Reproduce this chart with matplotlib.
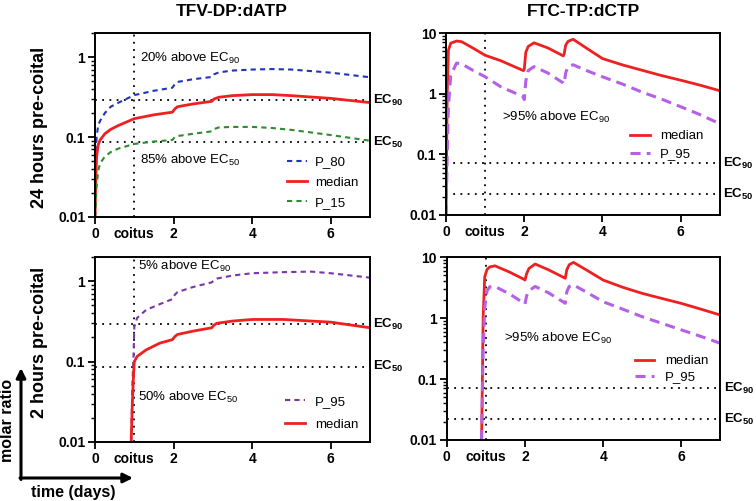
import matplotlib
matplotlib.use("Agg")
import matplotlib.pyplot as plt
from matplotlib.patches import FancyArrowPatch
from matplotlib.ticker import LogLocator, FixedLocator, NullFormatter
import matplotlib.transforms as mtransforms

plt.rcParams['font.family'] = ['Liberation Sans', 'DejaVu Sans']
plt.rcParams['mathtext.fontset'] = 'custom'
plt.rcParams['mathtext.rm'] = 'Liberation Sans'
plt.rcParams['mathtext.bf'] = 'Liberation Sans:bold'
plt.rcParams['mathtext.default'] = 'rm'

# ---- data ----
# TFV-DP:dATP, dose 24 h before coitus
tfv24_t = [0, 0.02, 0.04, 0.08, 0.13, 0.25, 0.4, 0.6, 1.0, 1.5, 1.97, 2.03, 2.1, 2.5,
           2.97, 3.03, 3.15, 3.5, 4.0, 4.5, 5.0, 6.0, 7.0]
tfv24_median = [0.01, 0.03, 0.057, 0.08, 0.092, 0.11, 0.125, 0.14, 0.17, 0.19, 0.205, 0.225,
                0.24, 0.26, 0.28, 0.3, 0.315, 0.33, 0.34, 0.34, 0.33, 0.305, 0.27]
tfv24_p80 = [0.01, 0.05, 0.1, 0.14, 0.16, 0.2, 0.24, 0.27, 0.335, 0.38, 0.415, 0.46, 0.49,
             0.53, 0.565, 0.61, 0.645, 0.68, 0.70, 0.71, 0.70, 0.64, 0.56]
tfv24_p15 = [0.01, 0.015, 0.024, 0.038, 0.047, 0.057, 0.065, 0.072, 0.082, 0.088, 0.092, 0.1,
             0.103, 0.11, 0.118, 0.126, 0.132, 0.134, 0.134, 0.13, 0.123, 0.106, 0.09]

# TFV-DP:dATP, dose 2 h before coitus
tfv2_t = [0.92, 0.95, 0.98, 1.0, 1.07, 1.3, 1.65, 1.97, 2.03, 2.1, 2.5, 2.97, 3.03, 3.1,
          3.5, 4.0, 4.8, 5.5, 6.0, 7.0]
tfv2_median = [0.01, 0.03, 0.07, 0.1, 0.116, 0.14, 0.17, 0.188, 0.205, 0.218, 0.24, 0.264,
               0.285, 0.30, 0.32, 0.335, 0.335, 0.32, 0.31, 0.264]
tfv2_p95 = [0.01, 0.05, 0.12, 0.27, 0.35, 0.44, 0.52, 0.6, 0.68, 0.735, 0.85, 0.97, 1.03,
            1.08, 1.18, 1.26, 1.3, 1.32, 1.26, 1.11]

# FTC-TP:dCTP, dose 24 h before coitus
ftc24_t = [0, 0.03, 0.06, 0.12, 0.27, 0.4, 0.7, 1.0, 1.4, 1.98, 2.0, 2.04, 2.1, 2.25, 2.6,
           3.0, 3.02, 3.06, 3.12, 3.25, 3.6, 4.0, 4.5, 5.0, 5.5, 6.0, 6.5, 7.0]
ftc24_median = [0.01, 1.0, 5.2, 6.8, 7.4, 7.2, 5.6, 4.3, 3.5, 2.4, 2.5, 4.8, 6.0, 6.9, 5.7,
                4.2, 4.5, 6.3, 7.3, 7.9, 5.6, 3.8, 3.0, 2.45, 2.0, 1.67, 1.38, 1.12]
ftc24_p95 = [0.01, 0.1, 0.6, 2.0, 3.2, 3.1, 2.4, 1.9, 1.3, 0.89, 0.8, 1.6, 2.4, 2.8, 2.2,
             1.5, 1.45, 2.2, 2.8, 3.0, 2.4, 1.9, 1.45, 1.07, 0.82, 0.61, 0.45, 0.32]

# FTC-TP:dCTP, dose 2 h before coitus
ftc2_t = [0.89, 0.91, 0.93, 0.97, 1.03, 1.1, 1.23, 1.6, 1.98, 2.0, 2.04, 2.1, 2.26, 2.6,
          3.0, 3.03, 3.07, 3.13, 3.24, 3.6, 4.0, 4.5, 5.0, 5.5, 6.0, 6.5, 7.0]
ftc2_median = [0.01, 0.1, 1.05, 4.75, 6.3, 6.9, 7.2, 5.7, 4.3, 4.2, 5.3, 6.5, 7.7, 6.2,
               4.6, 4.5, 6.2, 7.5, 8.2, 6.0, 4.2, 3.2, 2.54, 2.1, 1.74, 1.4, 1.12]
ftc2_p95 = [0.01, 0.05, 0.3, 1.5, 2.8, 3.26, 3.3, 2.5, 1.74, 1.7, 2.3, 2.8, 3.3, 2.6,
            1.8, 1.75, 2.7, 3.3, 3.5, 2.6, 1.85, 1.4, 1.05, 0.82, 0.64, 0.5, 0.385]

tfv_ec90, tfv_ec50 = 0.29, 0.086
ftc_ec90, ftc_ec50 = 0.071, 0.022
coitus_day = 1

RED = '#ee2020'
BLUE = '#2233bb'
GREEN = '#2e8b2e'
PURPLE_D = '#7a35a8'
PURPLE_L = '#b560e6'

fig = plt.figure(figsize=(7.56, 5.01), dpi=100)

ax_tl = fig.add_axes([0.1257, 0.5669, 0.3638, 0.367])
ax_tr = fig.add_axes([0.590, 0.571, 0.362, 0.363])
ax_bl = fig.add_axes([0.1257, 0.1178, 0.3638, 0.369])
ax_br = fig.add_axes([0.591, 0.1218, 0.362, 0.365])


def style_axis(ax, ymax, yticks, ylabels):
    ax.set_yscale('log')
    ax.set_xlim(0, 7)
    ax.set_ylim(0.01, ymax)
    ax.set_yticks(yticks)
    ax.set_yticklabels(ylabels)
    ax.yaxis.set_minor_locator(LogLocator(base=10, subs=range(2, 10)))
    ax.yaxis.set_minor_formatter(NullFormatter())
    ax.set_xticks([0, 2, 4, 6])
    ax.set_xticklabels(['0', '2', '4', '6'])
    ax.xaxis.set_minor_locator(FixedLocator([coitus_day]))
    ax.set_xticks([coitus_day], labels=['coitus'], minor=True)
    ax.tick_params(axis='both', which='major', direction='out', length=5, width=1.3,
                   labelsize=10, pad=2)
    ax.tick_params(axis='y', which='minor', direction='out', length=3, width=1.0)
    ax.tick_params(axis='x', which='minor', length=0, labelsize=10, pad=7)
    for lab in ax.get_xticklabels(which='both') + ax.get_yticklabels():
        lab.set_fontweight('bold')
    for sp in ax.spines.values():
        sp.set_linewidth(1.4)
    ax.axvline(coitus_day, color='k', ls=(0, (1, 3)), lw=1.3, zorder=1)


def ec_lines(ax, ec90, ec50, x_text):
    ax.axhline(ec90, color='k', ls=(0, (1, 3)), lw=1.3, zorder=1)
    ax.axhline(ec50, color='k', ls=(0, (1, 3)), lw=1.3, zorder=1)
    tr = mtransforms.blended_transform_factory(ax.transAxes, ax.transData)
    ax.text(x_text, ec90, r'EC$_{\mathbf{90}}$', transform=tr, fontsize=9.5,
            fontweight='bold', va='center', ha='left', clip_on=False)
    ax.text(x_text, ec50, r'EC$_{\mathbf{50}}$', transform=tr, fontsize=9.5,
            fontweight='bold', va='center', ha='left', clip_on=False)


# top left
style_axis(ax_tl, 2, [0.01, 0.1, 1], ['0.01', '0.1', '1'])
ec_lines(ax_tl, tfv_ec90, tfv_ec50, 1.012)
ax_tl.plot(tfv24_t, tfv24_p80, color=BLUE, lw=1.5, ls=(0, (2.5, 2)), label='P_80')
ax_tl.plot(tfv24_t, tfv24_median, color=RED, lw=2.0, label='median')
ax_tl.plot(tfv24_t, tfv24_p15, color=GREEN, lw=1.5, ls=(0, (2.5, 2)), label='P_15')
ax_tl.text(1.15, 0.97, r'20% above EC$_{90}$', fontsize=9.5, va='center')
ax_tl.text(1.15, 0.051, r'85% above EC$_{50}$', fontsize=9.5, va='center')
ax_tl.legend(loc='upper left', bbox_to_anchor=(0.698, 0.33), frameon=False, fontsize=9.5,
             handlelength=1.5, handletextpad=0.6, labelspacing=0.59, borderpad=0,
             borderaxespad=0)

# top right
style_axis(ax_tr, 10, [0.01, 0.1, 1, 10], ['0.01', '0.1', '1', '10'])
ec_lines(ax_tr, ftc_ec90, ftc_ec50, 1.012)
ax_tr.plot(ftc24_t, ftc24_median, color=RED, lw=2.0, label='median')
ax_tr.plot(ftc24_t, ftc24_p95, color=PURPLE_L, lw=2.2, ls=(0, (3.3, 2)), label='P_95')
ax_tr.text(1.44, 0.41, r'>95% above EC$_{90}$', fontsize=9.5, va='center')
ax_tr.legend(loc='upper left', bbox_to_anchor=(0.672, 0.467), frameon=False, fontsize=9.5,
             handlelength=1.5, handletextpad=0.8, labelspacing=0.44, borderpad=0,
             borderaxespad=0)

# bottom left
style_axis(ax_bl, 2, [0.01, 0.1, 1], ['0.01', '0.1', '1'])
ec_lines(ax_bl, tfv_ec90, tfv_ec50, 1.012)
ax_bl.plot(tfv2_t, tfv2_p95, color=PURPLE_D, lw=1.5, ls=(0, (2.5, 2)), label='P_95')
ax_bl.plot(tfv2_t, tfv2_median, color=RED, lw=2.0, label='median')
ax_bl.text(1.1, 1.54, r'5% above EC$_{90}$', fontsize=9.5, va='center')
ax_bl.text(1.1, 0.036, r'50% above EC$_{50}$', fontsize=9.5, va='center')
ax_bl.legend(loc='upper left', bbox_to_anchor=(0.69, 0.25), frameon=False, fontsize=9.5,
             handlelength=1.5, handletextpad=0.8, labelspacing=0.82, borderpad=0,
             borderaxespad=0)

# bottom right
style_axis(ax_br, 10, [0.01, 0.1, 1, 10], ['0.01', '0.1', '1', '10'])
ec_lines(ax_br, ftc_ec90, ftc_ec50, 1.012)
ax_br.plot(ftc2_t, ftc2_median, color=RED, lw=2.0, label='median')
ax_br.plot(ftc2_t, ftc2_p95, color=PURPLE_L, lw=2.2, ls=(0, (3.3, 2)), label='P_95')
ax_br.text(1.46, 0.47, r'>95% above EC$_{90}$', fontsize=9.5, va='center')
ax_br.legend(loc='upper left', bbox_to_anchor=(0.686, 0.464), frameon=False, fontsize=9.5,
             handlelength=1.5, handletextpad=0.8, labelspacing=0.27, borderpad=0,
             borderaxespad=0)

# titles and row labels
W, H = 756.0, 501.0
fig.text(232 / W, 1 - 11 / H, 'TFV-DP:dATP', fontsize=12.5, fontweight='bold',
         ha='center', va='center')
fig.text(583 / W, 1 - 11 / H, 'FTC-TP:dCTP', fontsize=12.5, fontweight='bold',
         ha='center', va='center')
fig.text(40 / W, 1 - 127 / H, '24 hours pre-coital', fontsize=13, fontweight='bold',
         rotation=90, ha='center', va='center')
fig.text(40 / W, 1 - 342 / H, '2 hours pre-coital', fontsize=13, fontweight='bold',
         rotation=90, ha='center', va='center')

# axis-key arrows in the corner
arr_v = FancyArrowPatch((21 / W, 1 - 479.5 / H), (21 / W, 1 - 368 / H),
                        transform=fig.transFigure, arrowstyle='-|>', mutation_scale=14,
                        lw=2.2, color='k', shrinkA=0, shrinkB=0)
arr_h = FancyArrowPatch((20 / W, 1 - 478 / H), (133 / W, 1 - 478 / H),
                        transform=fig.transFigure, arrowstyle='-|>', mutation_scale=14,
                        lw=2.2, color='k', shrinkA=0, shrinkB=0)
fig.add_artist(arr_v)
fig.add_artist(arr_h)
fig.text(8 / W, 1 - 420 / H, 'molar ratio', fontsize=11.5, fontweight='bold',
         rotation=90, ha='center', va='center')
fig.text(73 / W, 1 - 492 / H, 'time (days)', fontsize=11.5, fontweight='bold',
         ha='center', va='center')

fig.savefig('out.png', dpi=100)
